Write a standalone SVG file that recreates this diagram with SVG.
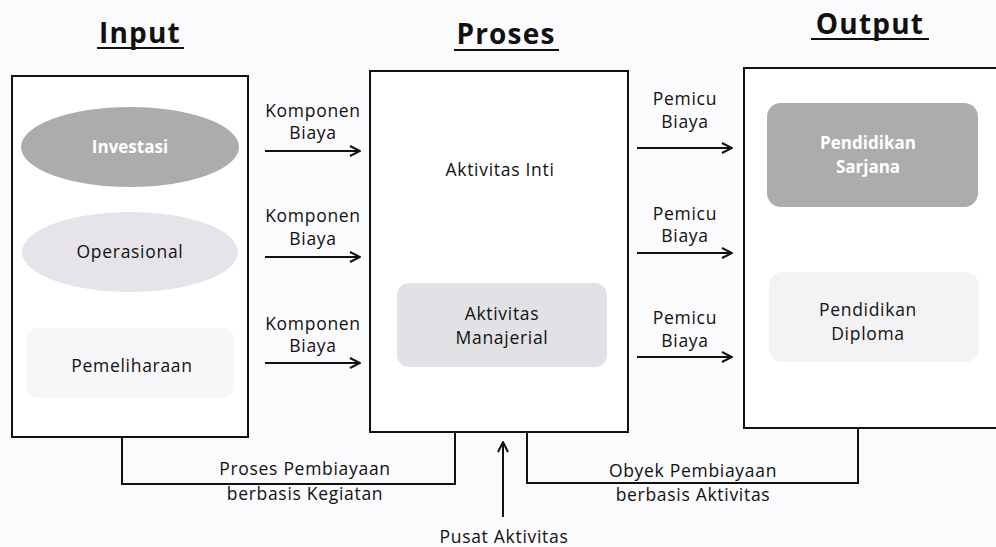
<svg xmlns="http://www.w3.org/2000/svg" width="996" height="547" viewBox="0 0 996 547">
<defs>
<style>
.t{font-family:"Open Sans","Noto Sans",sans-serif;font-size:17.5px;fill:#111111;text-anchor:middle;letter-spacing:0.7px;font-weight:500}
.w{font-family:"Open Sans","Noto Sans",sans-serif;font-size:17px;fill:#ffffff;font-weight:bold;text-anchor:middle}
.h{font-family:"Open Sans","Noto Sans",sans-serif;font-size:28px;font-weight:bold;fill:#111111;text-anchor:middle;letter-spacing:1.2px}
.box{fill:#ffffff;stroke:#111111;stroke-width:2}
.ln{fill:none;stroke:#111111;stroke-width:2}
</style>
<marker id="ah" viewBox="0 0 12 12" refX="11" refY="6" markerWidth="12" markerHeight="12" markerUnits="userSpaceOnUse" orient="auto">
<path d="M1,1 L11,6 L1,11" fill="none" stroke="#111111" stroke-width="2"/>
</marker>
</defs>
<rect width="996" height="547" fill="#fbfafc"/>
<g id="headers">
<text class="h" x="140" y="43">Input</text>
<line x1="97" y1="48" x2="184" y2="48" stroke="#111111" stroke-width="2"/>
<text class="h" x="506" y="44">Proses</text>
<line x1="454" y1="50" x2="559" y2="50" stroke="#111111" stroke-width="2"/>
<text class="h" x="870" y="34">Output</text>
<line x1="811" y1="39" x2="929" y2="39" stroke="#111111" stroke-width="2"/>
</g>
<g id="input">
<rect class="box" x="12" y="76" width="236" height="361"/>
<ellipse cx="130" cy="147" rx="109" ry="40" fill="#acacae"/>
<text class="w" x="130" y="153">Investasi</text>
<ellipse cx="130" cy="252" rx="108" ry="40" fill="#e6e4ea"/>
<text class="t" x="130" y="258">Operasional</text>
<rect x="26" y="328" width="208" height="70" rx="12" fill="#f7f6f8"/>
<text class="t" x="132" y="372">Pemeliharaan</text>
</g>
<g id="proses">
<rect class="box" x="370" y="71" width="258" height="361"/>
<text class="t" x="500" y="176">Aktivitas Inti</text>
<rect x="397" y="283" width="210" height="84" rx="12" fill="#e2e1e6"/>
<text class="t" x="502" y="320">Aktivitas</text>
<text class="t" x="502" y="344">Manajerial</text>
</g>
<g id="output">
<rect class="box" x="744" y="68" width="262" height="360"/>
<rect x="767" y="103" width="211" height="104" rx="14" fill="#acacae"/>
<text class="w" x="868" y="149">Pendidikan</text>
<text class="w" x="868" y="173">Sarjana</text>
<rect x="769" y="272" width="210" height="90" rx="14" fill="#f3f2f5"/>
<text class="t" x="868" y="316">Pendidikan</text>
<text class="t" x="868" y="340">Diploma</text>
</g>
<g id="connectors">
<line class="ln" x1="265" y1="151" x2="360" y2="151" marker-end="url(#ah)"/>
<line class="ln" x1="265" y1="257" x2="360" y2="257" marker-end="url(#ah)"/>
<line class="ln" x1="265" y1="363" x2="360" y2="363" marker-end="url(#ah)"/>
<line class="ln" x1="637" y1="148" x2="732" y2="148" marker-end="url(#ah)"/>
<line class="ln" x1="637" y1="253" x2="732" y2="253" marker-end="url(#ah)"/>
<line class="ln" x1="637" y1="357" x2="732" y2="357" marker-end="url(#ah)"/>
<polyline class="ln" points="122,437 122,484 455,484 455,432"/>
<polyline class="ln" points="527,432 527,483 858,483 858,428"/>
<line class="ln" x1="503" y1="517" x2="503" y2="442" marker-end="url(#ah)"/>
</g>
<g id="labels">
<text class="t" x="313" y="117">Komponen</text>
<text class="t" x="313" y="139">Biaya</text>
<text class="t" x="313" y="222">Komponen</text>
<text class="t" x="313" y="245">Biaya</text>
<text class="t" x="313" y="330">Komponen</text>
<text class="t" x="313" y="352">Biaya</text>
<text class="t" x="685" y="105">Pemicu</text>
<text class="t" x="685" y="128">Biaya</text>
<text class="t" x="685" y="220">Pemicu</text>
<text class="t" x="685" y="242">Biaya</text>
<text class="t" x="685" y="324">Pemicu</text>
<text class="t" x="685" y="347">Biaya</text>
<text class="t" x="305" y="475">Proses Pembiayaan</text>
<text class="t" x="305" y="500">berbasis Kegiatan</text>
<text class="t" x="693" y="477">Obyek Pembiayaan</text>
<text class="t" x="693" y="501">berbasis Aktivitas</text>
<text class="t" x="504" y="543">Pusat Aktivitas</text>
</g>
</svg>
